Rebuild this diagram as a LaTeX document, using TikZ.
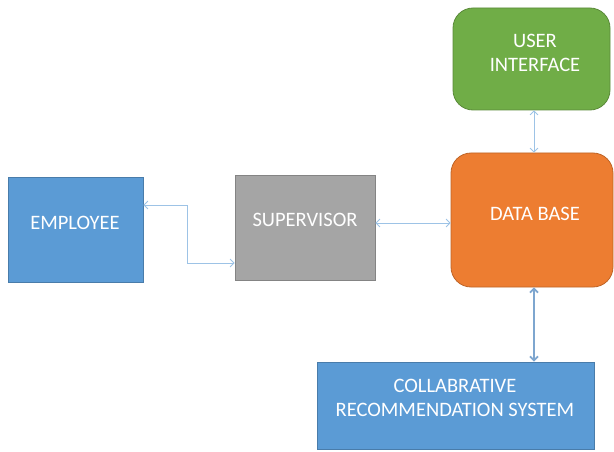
\documentclass[tikz,border=0pt]{standalone}
\usepackage{fontspec}
\setmainfont{Carlito}
\usetikzlibrary{arrows.meta}
\definecolor{boxblue}{HTML}{5B9BD5}
\definecolor{boxgray}{HTML}{A5A5A5}
\definecolor{boxorange}{HTML}{ED7D31}
\definecolor{boxgreen}{HTML}{70AD47}
\definecolor{linkblue}{HTML}{9DC3E6}
\definecolor{linkdark}{HTML}{7EA6CF}
\begin{document}
\begin{tikzpicture}[x=1pt,y=-1pt]
        \tikzset{
    block/.style={draw=#1!80!black, fill=#1, line width=0.8pt, inner sep=0pt},
    roundblock/.style={block=#1, rounded corners=20pt},
    label/.style={text=white, align=center, font=\fontsize{20.5}{23.5}\selectfont, inner sep=0pt},
    link/.style={draw=linkblue, line width=0.8pt, {Straight Barb[length=4pt,width=8pt]}-{Straight Barb[length=4pt,width=8pt]}},
    boldlink/.style={draw=linkdark, line width=1.8pt, {Straight Barb[length=4pt,width=8pt]}-{Straight Barb[length=4pt,width=8pt]}},
        }
        \useasboundingbox (0,0) rectangle (614,452);

        % Draw the boxes first.
        \node[block=boxblue, minimum width=135pt, minimum height=105pt] (emp) at (75.5,229.5) {};
        \node[block=boxgray, minimum width=140pt, minimum height=105pt] (sup) at (305,227.5) {};
        \node[roundblock=boxorange, minimum width=162pt, minimum height=134pt] (db) at (532,220) {};
        \node[roundblock=boxgreen, minimum width=157pt, minimum height=102pt] (ui) at (531.5,59) {};
        \node[block=boxblue, minimum width=277pt, minimum height=87pt] (crs) at (455.5,405.5) {};

        % Place the labels.
        \path (75,223)   node[label] (empt) {EMPLOYEE};
        \path (305,220)  node[label] (supt) {SUPERVISOR};
        \path (535,214)  node[label] (dbt)  {DATA BASE};
        \path (535,53)   node[label] (uit)  {USER\\INTERFACE};
        \path (455,398)  node[label] (crst) {COLLABRATIVE\\RECOMMENDATION SYSTEM};

        % Draw the connectors.
        \coordinate (bendA) at (187,205);
        \coordinate (bendB) at (187,263);
        \draw[link] (emp.east |- bendA) -- (bendA) -- (bendB) -- (sup.west |- bendB);
        \draw[link] (sup.east |- 0,223) -- (db.west |- 0,223);
        \draw[link] (ui.south -| 534,0) -- (db.north -| 534,0);
        \draw[boldlink] (db.south -| 534,0) -- (crs.north -| 534,0);
      \end{tikzpicture}
\end{document}
